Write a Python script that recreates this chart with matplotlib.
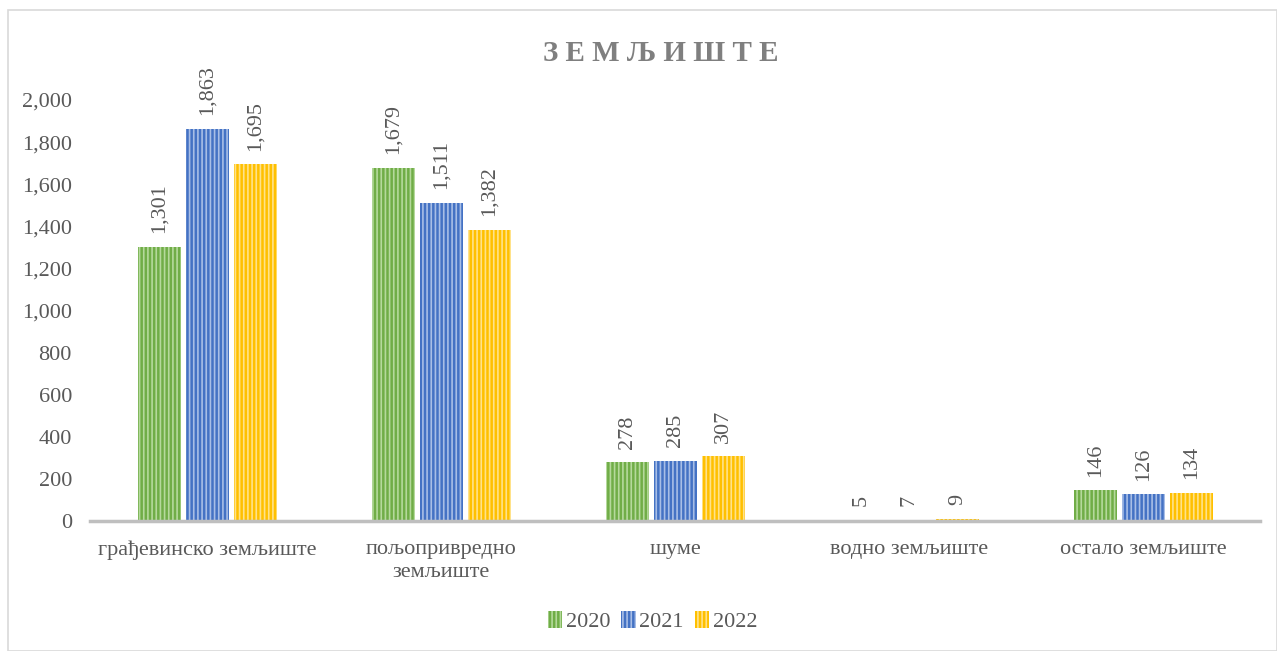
import matplotlib.pyplot as plt
import numpy as np
from matplotlib.patches import Rectangle

plt.rcParams['font.family'] = ['Liberation Serif', 'DejaVu Serif']
plt.rcParams['hatch.linewidth'] = 1.2

# Data
categories = ['грађевинско земљиште', 'пољопривредно\nземљиште', 'шуме',
              'водно земљиште', 'остало земљиште']
years = ['2020', '2021', '2022']
v2020 = [1301, 1679, 278, 5, 146]
v2021 = [1863, 1511, 285, 7, 126]
v2022 = [1695, 1382, 307, 9, 134]

colors = ['#70AD47', '#4472C4', '#FFC000']
hatch_colors = ['#B5D99C', '#A8BEE6', '#FFE28A']
grey = '#595959'

fig = plt.figure(figsize=(12.77, 6.51), dpi=100)
ax = fig.add_axes([0.0705, 0.1997, 0.9165, 0.6467])

x = np.arange(len(categories))
w = 0.184
step = 0.205
for i, (vals, c, hc, yr) in enumerate(zip([v2020, v2021, v2022], colors, hatch_colors, years)):
    pos = x + (i - 1) * step
    ax.bar(pos, vals, width=w, color=c, edgecolor=hc, linewidth=0, hatch='||||', label=yr)
    for p, v in zip(pos, vals):
        ax.text(p, v + 65, f'{v:,}', rotation=90, ha='center', va='bottom',
                fontsize=16, color=grey)

ax.set_xlim(-0.5, len(categories) - 0.5)
ax.set_ylim(0, 2000)
ax.set_yticks(np.arange(0, 2001, 200))
ax.set_yticklabels([f'{t:,}' for t in range(0, 2001, 200)])
ax.set_xticks(x)
ax.set_xticklabels(categories, linespacing=1.25)
ax.tick_params(axis='both', length=0, labelsize=16, labelcolor=grey)
ax.tick_params(axis='x', pad=14)
ax.tick_params(axis='y', pad=13)
for s in ['top', 'right', 'left']:
    ax.spines[s].set_visible(False)
ax.spines['bottom'].set_color('#BFBFBF')
ax.spines['bottom'].set_linewidth(2.5)

fig.text(0.5176, 0.918, 'З Е М Љ И Ш Т Е', ha='center', va='center',
         fontsize=21, fontweight='bold', color='#7F7F7F')

leg = fig.legend(loc='center', bbox_to_anchor=(0.511, 0.045), ncol=3, frameon=False,
                 fontsize=16, handlelength=0.65, handleheight=0.8, columnspacing=0.5,
                 handletextpad=0.15, labelcolor=grey)

fig.patches.append(Rectangle((0.006, 0.0), 0.994, 0.984, transform=fig.transFigure,
                             fill=False, edgecolor='#D9D9D9', linewidth=1.2))

plt.savefig('out.png', dpi=100)
